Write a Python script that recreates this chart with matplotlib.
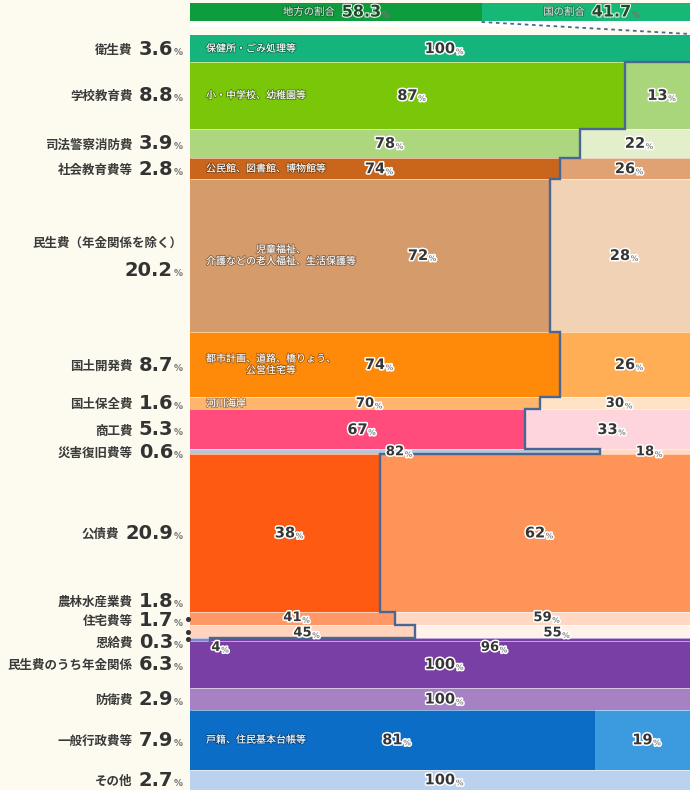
import matplotlib
matplotlib.use('Agg')
import matplotlib.pyplot as plt
import matplotlib.patheffects as pe
from matplotlib.lines import Line2D
from matplotlib.patches import Rectangle
import numpy as np

plt.rcParams['font.family'] = ['Noto Sans CJK JP', 'DejaVu Sans']

# ---------------- data ----------------
header_names = ['地方の割合', '国の割合']
header_values = [58.3, 41.7]

categories = ['衛生費', '学校教育費', '司法警察消防費', '社会教育費等',
              '民生費（年金関係を除く）', '国土開発費', '国土保全費', '商工費',
              '災害復旧費等', '公債費', '農林水産業費', '住宅費等', '恩給費',
              '民生費のうち年金関係', '防衛費', '一般行政費等', 'その他']
shares = [3.6, 8.8, 3.9, 2.8, 20.2, 8.7, 1.6, 5.3, 0.6, 20.9, 1.8, 1.7, 0.3,
          6.3, 2.9, 7.9, 2.7]
local_pct = [100, 87, 78, 74, 72, 74, 70, 67, 82, 38, 41, 45, 4,
             0, 0, 81, 0]
descriptions = ['保健所・ごみ処理等', '小・中学校、幼稚園等', '', '公民館、図書館、博物館等',
                '児童福祉、\n介護などの老人福祉、生活保護等', '都市計画、道路、橋りょう、\n公営住宅等',
                '河川海岸', '', '', '', '', '', '', '', '', '戸籍、住民基本台帳等', '']

# ---------------- styles ----------------
local_colors = ['#14B47C', '#7AC70A', '#ADD77F', '#C9661C', '#D59B6B', '#FF8A0A',
                '#FFB56B', '#FF4C7C', '#B9C6D8', '#FF5A12', '#FF9866', '#FFD3BD',
                '#7E86C4', '#7A3FA5', '#A682C4', '#0B6DC6', '#BBD2EE']
national_colors = ['#14B47C', '#A9D67A', '#E3EFCB', '#E0A173', '#F1D2B5', '#FFAE55',
                   '#FFE3C6', '#FFD5DD', '#FDD9C4', '#FF9458', '#FFD7C2', '#FFF2EA',
                   '#7A3FA5', '#7A3FA5', '#A682C4', '#3C9BDE', '#BBD2EE']
header_colors = ['#0E9C3E', '#17B777']
step_rows = 13
bg = '#FDFBEF'
line_color = '#4A6794'
txt_dark = '#363636'

W, H = 690, 790
X0, X1, Y0 = 190, 690, 35
px_per_x = (X1 - X0) / 100.0
px_per_y = (H - Y0) / 100.0

# label placement tweaks (pixels): (local dx, local dy, national dx, national dy)
pct_shift = {'民生費（年金関係を除く）': (48, 0, 0, 0), '恩給費': (16, 8, 40, 8),
             '農林水産業費': (0, -1, 0, -1), '住宅費等': (0, 1, 0, 1)}
label_y_override = {'農林水産業費': 601, '住宅費等': 620, '恩給費': 642}

fig = plt.figure(figsize=(W / 100, H / 100), dpi=100)
fig.patch.set_facecolor(bg)

ax = fig.add_axes([X0 / W, 0, (X1 - X0) / W, (H - Y0) / H])
ax.set_xlim(0, 100)
ax.set_ylim(100, 0)
ax.axis('off')

shares_a = np.array(shares, dtype=float)
top = np.concatenate([[0.0], np.cumsum(shares_a)[:-1]])
bottom = top + shares_a
center = top + shares_a / 2
local = np.array(local_pct, dtype=float)
national = 100 - local

ax.barh(center, local, height=shares_a, left=0, color=local_colors, linewidth=0, zorder=1)
ax.barh(center, national, height=shares_a, left=local, color=national_colors, linewidth=0, zorder=1)
ax.hlines(bottom[:-1], 0, 100, colors='white', lw=0.7, alpha=0.55, zorder=2)

# boundary step line between local and national
xs, ys = [], []
for i in range(step_rows):
    if i > 0:
        xs.append(local[i]); ys.append(top[i])
    xs.append(local[i]); ys.append(bottom[i])
ax.plot(xs, ys, color=line_color, lw=1.7, solid_joinstyle='miter', zorder=3)

num_fx = [pe.withStroke(linewidth=2.2, foreground='white')]
desc_fx = [pe.withStroke(linewidth=1.3, foreground=(0, 0, 0, 0.35))]


def put_pct(x, y, val, dxp=0, dyp=0, size=10.5):
    t = ax.annotate(f'{val:g}', xy=(x, y), xycoords='data', xytext=(dxp, -dyp),
                    textcoords='offset pixels', ha='center', va='center',
                    fontsize=size, fontweight='bold', color=txt_dark,
                    family=['DejaVu Sans'], path_effects=num_fx, zorder=5)
    ax.annotate('%', xy=(1, 0.3), xycoords=t, xytext=(0.5, 0), textcoords='offset pixels',
                ha='left', va='center', fontsize=5.5, fontweight='bold', color='#8a8a8a',
                family=['DejaVu Sans'], path_effects=num_fx, zorder=5)


for i, cat in enumerate(categories):
    sh = pct_shift.get(cat, (0, 0, 0, 0))
    size = 9.5 if shares[i] < 2 else 10.5
    if local[i] in (0, 100):
        put_pct(50, center[i], 100, size=size)
    else:
        put_pct(local[i] / 2, center[i], int(local[i]), sh[0], sh[1], size)
        put_pct(local[i] + national[i] / 2, center[i], int(national[i]), sh[2], sh[3], size)
    if descriptions[i]:
        ax.text(3.2, center[i], descriptions[i], ha='left', va='center',
                multialignment='center', fontsize=7.2, color='white',
                linespacing=1.2, path_effects=desc_fx, zorder=4)

# left labels
name_kw = dict(fontsize=9, fontweight='bold', color='#3a3a3a',
               family=['Noto Sans CJK JP', 'DejaVu Sans'])
val_kw = dict(fontsize=14, fontweight='bold', color='#333333', family=['DejaVu Sans'])
pct_kw = dict(fontsize=6.5, fontweight='bold', color='#777777', family=['DejaVu Sans'])

for i, cat in enumerate(categories):
    if cat in label_y_override:
        yl = (label_y_override[cat] - Y0) / px_per_y
        ax.plot([-0.5], [center[i]], marker='o', ms=2.6, color='#333333',
                clip_on=False, zorder=6)
    else:
        yl = center[i]
    two_line = len(cat) > 10 and '（' in cat
    val_y = yl + (15 / px_per_y if two_line else 0)
    p = ax.annotate('%', xy=(0, val_y), xycoords=('axes fraction', 'data'),
                    xytext=(-7, -6), textcoords='offset pixels',
                    ha='right', va='baseline', annotation_clip=False, **pct_kw)
    v = ax.annotate(f'{shares[i]:.1f}', xy=(0, val_y), xycoords=(p, 'data'),
                    xytext=(-1, -6), textcoords='offset pixels',
                    ha='right', va='baseline', annotation_clip=False, **val_kw)
    if two_line:
        ax.annotate(cat, xy=(0, yl - 12 / px_per_y), xycoords=('axes fraction', 'data'),
                    xytext=(-8, 0), textcoords='offset pixels',
                    ha='right', va='center', annotation_clip=False, **name_kw)
    else:
        ax.annotate(cat, xy=(0, val_y), xycoords=(v, 'data'),
                    xytext=(-6, -5), textcoords='offset pixels',
                    ha='right', va='baseline', annotation_clip=False, **name_kw)

# header
hax = fig.add_axes([X0 / W, (H - 21) / H, (X1 - X0) / W, 18 / H])
hax.set_xlim(0, 100)
hax.set_ylim(-0.5, 0.5)
hax.axis('off')
lefts = [0, header_values[0]]
hax.barh([0, 0], header_values, left=lefts, height=1, color=header_colors, linewidth=0)
hfx = [pe.withStroke(linewidth=1.6, foreground='#E8F5EA')]
for name, val, lft in zip(header_names, header_values, lefts):
    n = hax.annotate(f'{val:.1f}', xy=(lft + val / 2, 0), xytext=(6, 0),
                     textcoords='offset pixels', ha='left', va='center',
                     fontsize=11.5, fontweight='bold', color='#1E4A2C',
                     family=['DejaVu Sans'], path_effects=hfx)
    hax.annotate('%', xy=(1, 0.3), xycoords=n, xytext=(0.5, 0), textcoords='offset pixels',
                 ha='left', va='center', fontsize=5.5, fontweight='bold',
                 color='#6a7a6a', family=['DejaVu Sans'])
    hax.annotate(name, xy=(0, 0.5), xycoords=n, xytext=(-7, 0), textcoords='offset pixels',
                 ha='right', va='center', fontsize=7.5, color='#C9DCCD',
                 path_effects=[pe.withStroke(linewidth=1.2, foreground=(0, 0, 0, 0.3))])

# strip under the header and dashed connector
fig.add_artist(Rectangle((X0 / W, (H - 27) / H), (X1 - X0) / W, 5 / H,
                         transform=fig.transFigure, color='white', lw=0, zorder=0.5))
xb = (X0 + header_values[0] * px_per_x) / W
fig.add_artist(Line2D([xb, X1 / W], [(H - 22) / H, (H - 34) / H], transform=fig.transFigure,
                      color=line_color, lw=1.3, ls=(0, (2, 2))))

fig.savefig('out.png', dpi=100, facecolor=bg)
